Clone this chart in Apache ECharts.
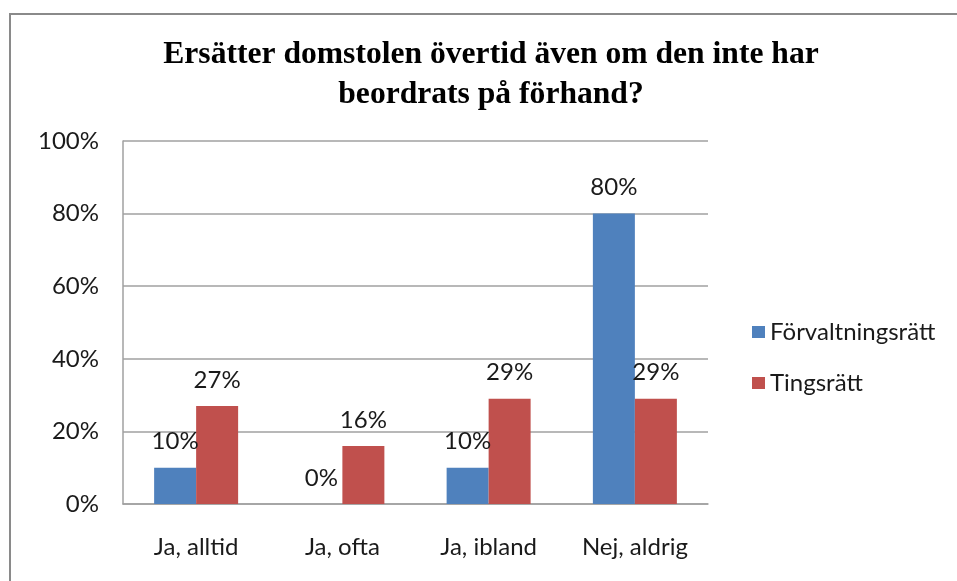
<!DOCTYPE html>
<html>
<head>
<meta charset="utf-8">
<script src="https://cdn.jsdelivr.net/npm/echarts@6/dist/echarts.min.js"></script>
<style>
  html, body { margin: 0; padding: 0; background: #fff; }
  #chart { width: 957px; height: 581px; }
</style>
</head>
<body>
<div id="chart"></div>
<script>
// kategorier och värden (andelar 0..1)
var categories = ["Ja, alltid", "Ja, ofta", "Ja, ibland", "Nej, aldrig"];
var forvaltningsratt = [0.10, 0.00, 0.10, 0.80];
var tingsratt = [0.27, 0.16, 0.29, 0.29];
var yTicks = [0, 0.2, 0.4, 0.6, 0.8, 1.0];

var labelFont = "Lato, 'Open Sans', sans-serif";

var chart = echarts.init(document.getElementById("chart"));

function pct(v) {
    return Math.round(v * 100) + "%";
}

var option = {
    animation: false,
    backgroundColor: "#fff",
    title: {
        text: "Ersätter domstolen övertid även om den inte har\nbeordrats på förhand?",
        left: 486,
        top: 30,
        textAlign: "center",
        textStyle: {
            fontFamily: "'Liberation Serif', serif",
            fontWeight: "bold",
            fontSize: 31.6,
            lineHeight: 40,
            color: "#000"
        }
    },
    legend: {
        orient: "vertical",
        left: 747,
        top: 315,
        itemWidth: 13,
        itemHeight: 12,
        itemGap: 27,
        icon: "rect",
        textStyle: { fontFamily: labelFont, fontSize: 24, lineHeight: 24, color: "#1a1a1a" },
        data: ["Förvaltningsrätt", "Tingsrätt"]
    },
    grid: { left: 123, right: 249, top: 141, bottom: 77 },
    xAxis: {
        type: "category",
        data: categories,
        axisLine: { lineStyle: { color: "#a0a0a0", width: 1.5 } },
        axisTick: { show: false },
        axisLabel: { fontFamily: labelFont, fontSize: 24, color: "#1a1a1a", margin: 31 }
    },
    yAxis: {
        type: "value",
        min: yTicks[0],
        max: yTicks[yTicks.length - 1],
        interval: 0.2,
        axisLine: { show: true, lineStyle: { color: "#a0a0a0", width: 1.5 } },
        axisTick: { show: false },
        splitLine: { lineStyle: { color: "#a0a0a0", width: 1.5 } },
        axisLabel: { fontFamily: labelFont, fontSize: 24, color: "#1a1a1a", margin: 24, formatter: pct }
    },
    series: [
        {
            name: "Förvaltningsrätt",
            type: "bar",
            data: forvaltningsratt,
            barWidth: 42,
            barGap: "0%",
            itemStyle: { color: "#4F81BD" },
            label: {
                show: true, position: "top", distance: 14,
                fontFamily: labelFont, fontSize: 24, color: "#1a1a1a",
                formatter: function (p) { return pct(p.value); }
            }
        },
        {
            name: "Tingsrätt",
            type: "bar",
            data: tingsratt,
            barWidth: 42,
            barGap: "0%",
            itemStyle: { color: "#C0504D" },
            label: {
                show: true, position: "top", distance: 14,
                fontFamily: labelFont, fontSize: 24, color: "#1a1a1a",
                formatter: function (p) { return pct(p.value); }
            }
        }
    ],
    graphic: [
        {
            type: "rect",
            silent: true,
            z: -1,
            shape: { x: 10, y: 14, width: 1000, height: 700 },
            style: { fill: null, stroke: "#8a8a8a", lineWidth: 2 }
        }
    ]
};

chart.setOption(option);
</script>
</body>
</html>
